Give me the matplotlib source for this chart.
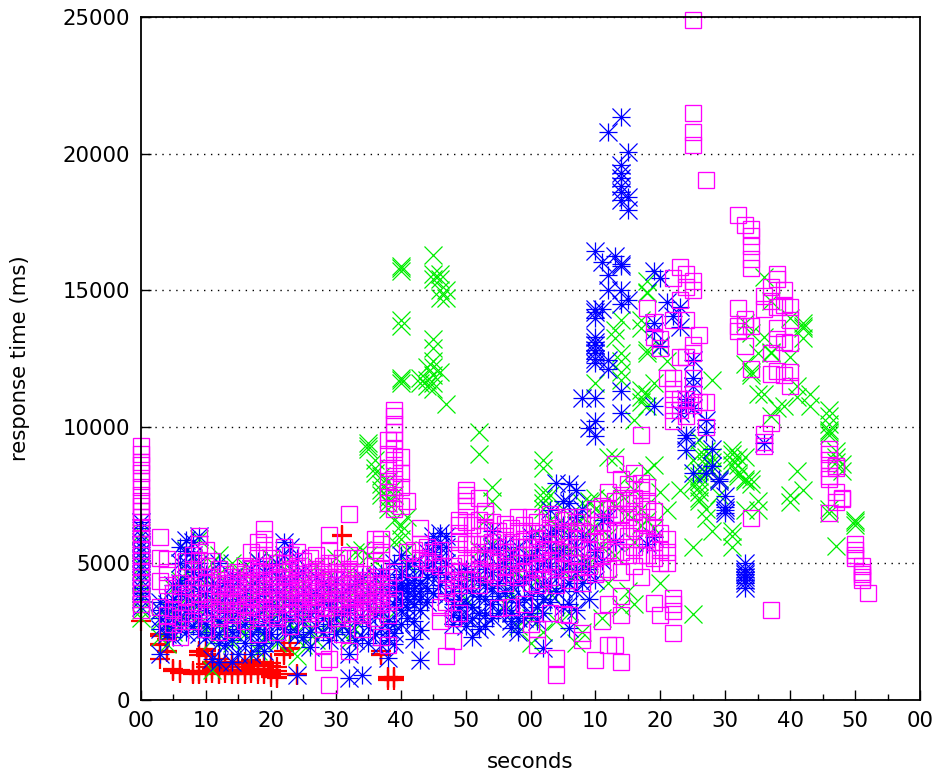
import matplotlib
matplotlib.use("Agg")
import matplotlib.pyplot as plt
from matplotlib.path import Path
from matplotlib.ticker import MultipleLocator

x_tick_labels = ["00","10","20","30","40","50","00","10","20","30","40","50","00"]
y_ticks = [0,5000,10000,15000,20000,25000]

red = {
 0:[2900], 3:[2400,2350,2050,2000,1500], 4:[1800,1750,2250,2200], 5:[1150,1100,1050], 6:[1100,1050,1000], 8:[1050,1000,950], 9:[1800,1750,1650,1050,1000,950],
 10:[1850,1800,1700,1600,1300,1200,1050,1000], 11:[1000,1050,1150,1300,1400], 12:[950,1000,1150,1250,1400,1500], 13:[1000,1100,1200,1300], 14:[950,1050,1100,1200,1300,1400], 15:[950,1000,1100,1200,1300],
 16:[950,1000,1100,1200,1300,1400], 17:[1000,1050,1150,1250,1350,1450], 18:[950,1050,1150,1250,1350], 19:[950,1000,1150,1300,1400], 20:[850,900,1000,1100,1250,1350], 21:[800,850,950,1050,1200],
 22:[1650,1700,1800], 23:[1850,1900,2100], 24:[950,900], 31:[6000,6050], 37:[1800,1700,1650], 38:[850,800,750], 39:[850,800,750],
}
green = {
 0:[3000,3300,3800,4300,4900,5400,6100], 3:[2300,2900,3300], 4:[2050,2600,3400], 5:[2500,3100,4100], 6:[2900,3500,4400],
 7:[3200,4700,5500], 8:[3500,4200,5200], 9:[2800,3700,4900,5900], 10:[2600,3300,4400], 11:[1100,2200,3600,5000],
 12:[2800,3700,4600,5300], 13:[2500,3400,4300], 14:[2100,3100,4000,5000], 15:[2700,3600,4700], 16:[2400,3300,4900],
 17:[2800,3800,4400], 18:[1800,2600,3500,5100], 19:[2300,3300,4200], 20:[2900,3700,5200], 21:[2100,3200,4500],
 22:[2600,3600,5000], 23:[2800,3900,4600], 24:[1600,2500,3500], 25:[2000,3000,4300], 26:[2600,3600], 27:[2200,3300,4900],
 28:[2500,3700], 29:[2900,3900,4500], 30:[2400,3300,5200], 31:[2800,3800], 32:[2200,3500,4700], 33:[2600,4000,5400],
 34:[3000,4400,5500], 35:[9400,9300,9200,5300,3800], 36:[8800,8500,8300,5100,3300], 37:[8200,7900,7700,7500,4200],
 38:[7400,7200,8000,7000,3000], 39:[7800,7500,6600,5800], 40:[15900,15800,15700,13900,13700,11800,11700,11600,6400,6200,5900],
 41:[5500,5000,6700], 43:[11600,11800], 44:[11700,11500,12200], 45:[16300,15600,15400,13200,12900,12400,12200,11900,11600,11400],
 46:[15600,15400,15000,14700,12000], 47:[15000,14700,10850], 50:[3700,4500], 52:[9800,9000,5500], 53:[6600,4400],
 54:[7800,7300,5700], 56:[4900,3500], 57:[3900,5400], 58:[4700,2700], 60:[2100,3000,5300], 61:[4400,3400,6100],
 62:[8800,8500,7600,7400,7200,7000,2500], 63:[7500,6600,5900,3900], 64:[6400,5400,2900], 65:[7000,5800,4700], 66:[5500,3200,6300],
 67:[6400,4600,2100], 68:[7200,6700,5200,2500], 69:[7300,6200,5000], 70:[11600,7400,7000,6300], 71:[6800,5600,3000],
 72:[8900,7400,6000,4300], 73:[13550,13250,8900,7100,5300], 74:[13900,12700,12400,12000,11700,7500,3400], 75:[8200,6800,4000],
 76:[10250,7700,5800,3500], 77:[13900,13600,11350,11100,10900,7000,6400], 78:[15350,14950,14900,12800,12700,11200,10750,8400,6600],
 79:[11600,8600,6300], 80:[13000,7600,4300], 81:[12400,6950], 83:[7700], 85:[8800,5600,3150,7900],
 86:[9000,8400,8200,8000,7800,7600,7400,7300,9500], 87:[9100,8900,8600,8300,7000,6650], 88:[11700,8900,8700,8400,6200], 89:[8100,7500],
 91:[9150,9000,8800,8600,6200,6000,5600], 92:[8300,8200,8900,8600], 93:[13800,12300,8900,8100,8000,6950], 94:[13450,12000,11900,8100,7900],
 95:[12700,11200,7300,6950], 96:[15500,13300,11200], 97:[14600,12700,12750,10400], 98:[10700], 99:[10750],
 100:[14000,12550,7500,7250], 101:[11500,11100,8400], 102:[13800,13700,13600,13250,7700], 103:[10750,11200],
 106:[10600,10400,10100,9900,9800,9700,7000,6850], 107:[9100,8900,8700,5650], 108:[8650,8400], 110:[6600,6500,6400],
}
blue = {
 0:[3400,3700,3900,4100,4400,4600,4800,5000,5200,5400,5600,5800,6000,6300,6500], 3:[1700,2600,3000,3300,3600],
 4:[2400,2800,3100,3500], 5:[2300,2700,3000,3400,3700,4200], 6:[2600,3000,3400,3900,4300,5000,5600], 7:[2500,2900,3300,3800,4400,5000,5450,5850],
 8:[2700,3100,3600,4200,4700,5300,5800], 9:[2400,3000,3500,4000,4500,5000,6000], 10:[2300,2800,3300,3900,4600], 11:[1500,2500,3100,3700,4200],
 12:[1400,2100,2400,2900,3500,4100,5000], 13:[2000,2700,3200,3800,4300], 14:[1400,2200,2500,3000,3500,4100,4500], 15:[1700,2600,3200,3700,4400],
 16:[2100,2800,3400,3900], 17:[1700,2400,3000,3600,4200,4800], 18:[2000,2600,3100,3800,4400,5100], 19:[1800,2100,2500,2900,3400,4000,4700],
 20:[2400,2900,3500,4100,4800], 21:[2200,2800,3300,3900,4500,5000], 22:[2600,3100,3800,4400,5300,5800], 23:[2500,3000,3600,4300,5600],
 24:[900,2400,3100,3700,4600,5200], 25:[2300,2900,3400,4000,4700], 26:[1950,2500,3200,3800], 27:[2700,3300,3900,4500], 28:[2500,3000,3600,4300],
 29:[2200,2800,3500,4100], 30:[2400,3100,3700,4400], 31:[2700,3200,3900], 32:[800,1700,2500,3300,4100], 33:[2200,2900,3600,4300],
 34:[900,2300,3000,3700,4500], 35:[2100,2700,3400,4000], 36:[2400,3100,3800,4500], 37:[2000,2600,3300,4000,4650],
 38:[1550,2200,2600,2900,3400,4000,4500], 39:[2050,2450,2800,3500,3900,4300,5000], 40:[2800,3300,3600,3900,4100,4300,4600,5300],
 41:[3000,3400,3700,4000,4200,4500,4900], 42:[2250,2900,3500,3800,4100,4400,5000], 43:[1450,2550,3300,3700,4000,4300,4800],
 44:[3600,4100,4500,4900,5400], 45:[3900,4600,5000,5400,5800,6000], 46:[4200,4700,5200,5600,6100], 47:[3800,4500,5000,5600,6000],
 48:[2800,3100,3500,4000], 49:[3050,3400,3700,4300,4700], 50:[2700,3000,3500,4100,4800], 51:[2300,3000,3400,3900,4500], 52:[2600,3200,3800,4400,5000],
 53:[2700,3100,3700,4200,4800,5400], 54:[3000,3500,4100,4700,5600,6200], 55:[3200,3800,4300,4900,5500], 56:[3300,3900,4500,5000,5700],
 57:[2650,2900,3200,3700,4200,4800,5300], 58:[2500,3000,3600,4300,5000,5600], 59:[3000,3700,4400,5100], 60:[3200,3800,4500,5200,6000],
 61:[2900,3400,4000,4800,5500], 62:[1900,3200,3700,4300,5000,5900], 63:[3600,4200,4900,5600,6100,6950], 64:[4000,4600,5300,6200,7950],
 65:[3400,4100,4800,5500,6400,7300], 66:[2650,3500,4300,5100,6000,7200,7900], 67:[3300,4000,4700,5600,6700,7700], 68:[11050,4300,5000,6000,7000],
 69:[9950,3700,4800,5800], 70:[16450,14300,14200,14000,13300,13100,13000,12800,12700,12500,12350,11050,10200,9650,4400,5400],
 71:[16050,14300,6600,5100], 72:[20800,15550,15000,12450,12100,6700], 73:[16250,5800], 74:[21350,19600,19300,19100,18800,18600,18300,15950,15900,15000,14500,11300,10500],
 75:[20050,18400,17950,14650], 78:[5700], 79:[15700,13800,13500,10750,5950], 80:[15450,12950], 81:[14550], 82:[14050],
 83:[14400,13650,10500], 84:[11000,10800,9700,9600,9150], 85:[12450,11800,11500,10700,8300], 87:[10250,9800,8300], 88:[9200,8550],
 89:[8100,8000], 90:[7450,7050,6950,6850], 93:[5000,4800,4700,4600,4500,4400,4300,4100], 96:[9400],
}
magenta = {
 0:[3300,3500,3700,3900,4100,4300,4500,4700,4900,5100,5300,5500,5700,5900,6100,6300,6500,6700,6900,7100,7300,7500,7800,8000,8300,8600,8700,9000,9300],
 3:[5950,5200,4350,3400], 4:[4700,4200,5150,3100,2500], 5:[3900,3300,2800], 6:[4300,3600,3000,2300], 7:[5100,4500,3800,3200],
 8:[5300,4800,4100,3600,2900], 9:[6000,5700,5100,4500,3900,3300], 10:[5500,4900,4300,3700,3200,2600], 11:[5100,4500,3900,3400],
 12:[4800,4400,4200,3800,3600,3300,3000,2500], 13:[4600,4300,4100,3700,3500,3300], 14:[4500,4300,4100,3800,3600,3100,2600], 15:[4700,4400,4200,3800,3500,3300], 16:[4900,4600,4400,3900,3700,3400,2900],
 17:[5400,4800,4500,4300,3800,3500,3200], 18:[5800,5300,4700,4400,4200,3700,3400,3100,2400], 19:[6250,5900,5500,4900,4600,4400,3900,3600,3300], 20:[5200,4700,4400,4200,3700,3400,3200],
 21:[5000,4500,4200,4000,3700,3500,3000,2500], 22:[5600,5000,4700,4500,4200,4000,3700,3500], 23:[5300,4800,4500,4300,4000,3800,3500,3200,2700], 24:[5400,4900,4600,4400,4100,3900,3600,3400],
 25:[5100,4600,4400,4200,3900,3700,3400,3200], 26:[5200,4700,4400,4100,3800,3600,3300,3000], 27:[5300,4800,4500,4300,4000,3800,3500,3200], 28:[4900,4600,4400,4100,3900,3600,3400,2800,2000,1400], 29:[6050,5500,5000,4700,4500,4200,3900,3700,3400,1500,550],
 30:[5000,4700,4500,4200,4000,3700,3500,3000], 31:[5200,4700,4400,4200,3900,3700,3400,3100,2400], 32:[6800,5300,4800,4500,4300,4000,3800,3500,3200,1800], 33:[5200,4700,4400,4200,3900,3700,3400,3200], 34:[4600,4300,4100,3800,3600,3300,3100,2600],
 35:[4400,4100,3900,3600,3400], 36:[5900,5500,5100,4500,4200,4000,3700,3500,3000], 37:[5900,5700,5400,4800,4300,4000,3800,3500,3300,2300], 38:[9500,9000,8500,8000,7600,7200,4500,4100,3600,3100,2000],
 39:[10600,10400,10100,9800,9500,9200,8800,8500,8100,7800,7400,7000,4700,3700], 40:[8900,8300,7800,7100], 41:[7300,5400], 42:[5500,4800], 43:[6300,5700,5200],
 44:[5600,5100], 45:[5400,5000], 46:[5500,4900,3400,2900], 47:[4600,4100,3600,1600], 48:[4900,4400,3900,3000,2150], 49:[6600,6400,6100,5800,5300,4700,4200,3200],
 50:[7700,7500,7300,7100,6500,5700,5000,4400], 51:[6400,5700,5200,4400], 52:[7400,6600,6000,5300,4800,4200], 53:[6900,6800,6300,5700,5200,4600], 54:[6500,5800,5200,4700],
 55:[6200,5600,5100,4500,3350], 56:[6450,6000,5400,4900,4300], 57:[6300,5800,5200,4600,3400], 58:[6700,6200,5600,5000,4500], 59:[6400,5900,5300,4700,3500],
 60:[6700,6200,5600,5000,4300,2800], 61:[6500,5900,5400,4800,4200,2600,2000], 62:[6100,5500,5000,4400], 63:[6800,6300,5700,5100,4500,3200], 64:[6700,6100,5500,4900,4200,1550,900],
 65:[6600,6000,5400,4800,3150], 66:[6700,6200,5600,5000,4400,3100], 67:[6500,5900,5300,4700], 68:[6700,6200,5600,5000,4300,2450,2200], 69:[6100,5500,4900],
 70:[7000,6400,5800,5200,4600,1450], 71:[7100,6500,5900,5300,4700,2900], 72:[7600,7000,6200,5500,4800,3500,2000], 73:[8650,7300,6800,6100,5400,2000], 74:[8100,7400,6800,6200,5400,4700,3800,3100,1400],
 75:[7900,7200,6700,6000,5300], 76:[8300,7400,6900,6300,5600,4900], 77:[9700,7950,7700,7100,6500,5900,5300,4500], 78:[14350,7800,7300,7000,6400,5900,5300], 79:[13850,13300,6900,6300,5800,5200,3550], 80:[12900,13200,6100,5500,5000,3100],
 81:[11800,5900,5400,5000], 82:[15450,13900,11800,11400,11000,10600,10200,3750,3500,3250,2450], 83:[15850,14650,12550,11000,10600], 84:[15600,15100,13900,12550,11000,10400], 85:[24900,21500,20800,20300,15350,15000,13000,12700,11800,11200,10800],
 86:[13350,10900], 87:[19050,10900,10000], 92:[17750,14350,13700,13500], 93:[17400,13950,13700,12950], 94:[17250,17000,16600,16150,15800,13700,12100,6650],
 96:[14800,14300,9750,9450,9300], 97:[15100,14600,12700,11950,10150,3300], 98:[15600,15400,14400,13600,13200,12050], 99:[15000,14450,13100,11900], 100:[14400,13900,13050,12000,11500],
 106:[9200,9000,8800,8500,8200,8100,6850], 107:[8550,8500,7600,7250], 108:[7400,7350], 110:[5700,5500,5300,5200], 111:[4900,4700,4600,4500,4400], 112:[3900],
}

def expand(cols):
    xs, ys = [], []
    for sec, vals in cols.items():
        for v in vals:
            xs.append(sec); ys.append(v)
    return xs, ys

star = Path([(-.5,0),(.5,0),(0,-.5),(0,.5),(-.5,-.5),(.5,.5),(-.5,.5),(.5,-.5)],
            [Path.MOVETO,Path.LINETO]*4)

fig = plt.figure(figsize=(9.35,7.73), dpi=100)
ax = fig.add_axes([141/935, 1-700/773, (920-141)/935, (700-17)/773])
styles = [(red,"#ff0000","+",15,1.6),(green,"#00ee00","x",13,0.9),(blue,"#0000ff",star,13,0.9),(magenta,"#ff00ff","s",12.2,0.95)]
for cols,color,m,ms,mw in styles:
    xs,ys = expand(cols)
    ax.plot(xs,ys,ls="none",marker=m,ms=ms,mfc="none",mec=color,mew=mw,clip_on=False,zorder=3)

ax.set_xlim(0,120)
ax.set_ylim(0,25000)
ax.set_xticks(range(0,121,10))
ax.set_xticklabels(x_tick_labels)
ax.xaxis.set_minor_locator(MultipleLocator(5))
ax.set_yticks(y_ticks)
ax.tick_params(axis="both",which="major",direction="in",length=7,width=1,labelsize=15.3,pad=8)
ax.tick_params(axis="x",which="minor",direction="in",length=4,width=1)
ax.grid(axis="y",color="black",ls=(0,(1,4)),lw=1)
ax.set_axisbelow(True)
for s in ax.spines.values():
    s.set_linewidth(1.3); s.set_zorder(4)
ax.set_xlabel("seconds",fontsize=15.3,labelpad=15)
ax.set_ylabel("response time (ms)",fontsize=15.3)
ax.yaxis.set_label_coords((30-141)/779, (700-358)/683)
fig.savefig("out.png",dpi=100)
